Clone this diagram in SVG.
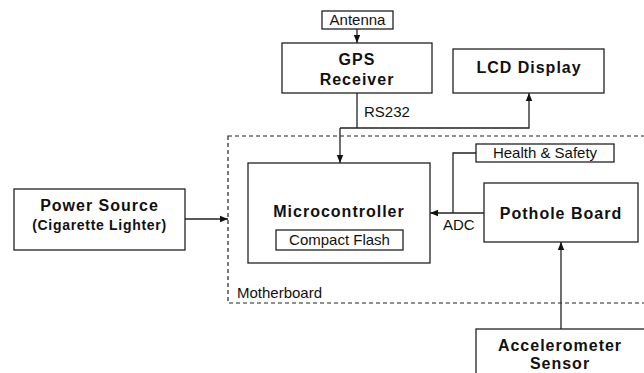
<svg xmlns="http://www.w3.org/2000/svg" width="644" height="373" viewBox="0 0 644 373">
  <style>
    .box { fill: #ffffff; stroke: #222222; stroke-width: 1.3; }
    .line { fill: none; stroke: #222222; stroke-width: 1.3; }
    .board { fill: none; stroke: #222222; stroke-width: 1.2; stroke-dasharray: 4 3; }
    .title { font-family: "Liberation Sans", Arial, sans-serif; font-weight: bold; font-size: 16px; letter-spacing: 1px; fill: #111111; text-anchor: middle; }
    .sub { font-family: "Liberation Sans", Arial, sans-serif; font-weight: bold; font-size: 14px; letter-spacing: 0.7px; fill: #111111; text-anchor: middle; }
    .label { font-family: "Liberation Sans", Arial, sans-serif; font-size: 15px; fill: #111111; }
    .mid { text-anchor: middle; }
  </style>
  <defs>
    <marker id="arrow" viewBox="0 0 8 8" refX="8" refY="4" markerWidth="8" markerHeight="8" markerUnits="userSpaceOnUse" orient="auto">
      <path d="M0,0.8 L8,4 L0,7.2 Z" fill="#111111"/>
    </marker>
  </defs>

  <rect width="644" height="373" fill="#ffffff"/>

  <!-- motherboard boundary -->
  <g id="motherboard">
    <rect class="board" x="228" y="136" width="430" height="167"/>
    <text class="label" x="237" y="298">Motherboard</text>
  </g>

  <!-- connectors -->
  <g id="connectors">
    <line class="line" x1="357" y1="29" x2="357" y2="43" marker-end="url(#arrow)"/>
    <polyline class="line" points="357,93 357,128"/>
    <polyline class="line" points="340,128 529,128 529,93" marker-end="url(#arrow)"/>
    <line class="line" x1="340" y1="128" x2="340" y2="163" marker-end="url(#arrow)"/>
    <text class="label" x="364" y="117">RS232</text>
    <line class="line" x1="185" y1="219" x2="228" y2="219" marker-end="url(#arrow)"/>
    <line class="line" x1="484" y1="213" x2="430" y2="213" marker-end="url(#arrow)"/>
    <polyline class="line" points="476,153 453,153 453,213"/>
    <text class="label" x="443" y="230">ADC</text>
    <line class="line" x1="561" y1="329" x2="561" y2="242" marker-end="url(#arrow)"/>
  </g>

  <g id="antenna">
    <rect class="box" x="322" y="11" width="71" height="18"/>
    <text class="label mid" x="357.5" y="25">Antenna</text>
  </g>

  <g id="gps">
    <rect class="box" x="282" y="43" width="150" height="50"/>
    <text class="title" x="357" y="65">GPS</text>
    <text class="title" x="357" y="85">Receiver</text>
  </g>

  <g id="lcd">
    <rect class="box" x="453" y="49" width="151" height="44"/>
    <text class="title" x="529" y="73">LCD Display</text>
  </g>

  <g id="power">
    <rect class="box" x="14" y="189" width="171" height="61"/>
    <text class="title" x="99.5" y="211">Power Source</text>
    <text class="sub" x="99.5" y="230">(Cigarette Lighter)</text>
  </g>

  <g id="microcontroller">
    <rect class="box" x="248" y="163" width="182" height="100"/>
    <text class="title" x="339" y="217">Microcontroller</text>
    <rect class="box" x="276" y="230" width="127" height="20"/>
    <text class="label mid" x="339.5" y="245">Compact Flash</text>
  </g>

  <g id="health">
    <rect class="box" x="476" y="144" width="138" height="18"/>
    <text class="label mid" x="545" y="158">Health &amp; Safety</text>
  </g>

  <g id="pothole">
    <rect class="box" x="484" y="183" width="154" height="59"/>
    <text class="title" x="561" y="219">Pothole Board</text>
  </g>

  <g id="accelerometer">
    <rect class="box" x="476" y="329" width="172" height="60"/>
    <text class="title" x="560" y="351">Accelerometer</text>
    <text class="title" x="560" y="369">Sensor</text>
  </g>
</svg>
